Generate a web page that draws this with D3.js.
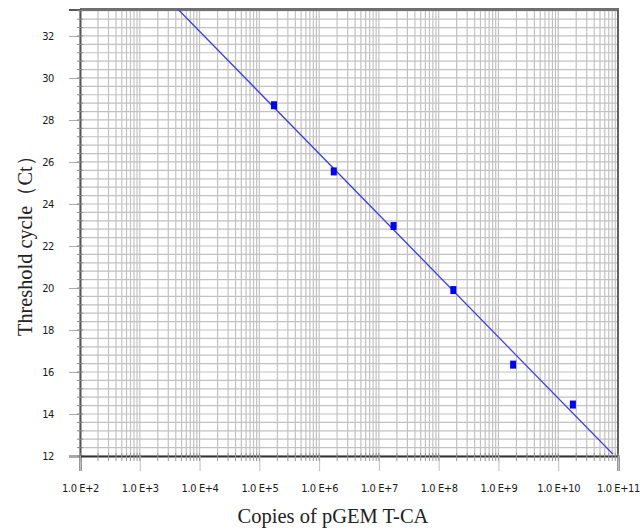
<!DOCTYPE html>
<html>
<head>
<meta charset="utf-8">
<script src="https://cdn.jsdelivr.net/npm/d3@7"></script>
<style>
  body { margin: 0; background: #fff; }
  .tick-lab { font-family: "DejaVu Sans Condensed", "Liberation Sans Narrow", sans-serif; font-size: 11px; fill: #1a1a1a; letter-spacing: -0.4px; }
  .axis-title { font-family: "Liberation Serif", "Times New Roman", serif; fill: #222; }
</style>
</head>
<body>
<div id="chart"></div>
<script>
// data
var copies = [1.76e5, 1.76e6, 1.76e7, 1.76e8, 1.76e9, 1.76e10];
var ctValues = [28.7, 25.55, 22.95, 19.9, 16.35, 14.45];
var xTickExp = [2, 3, 4, 5, 6, 7, 8, 9, 10, 11];
var yTickVals = [12, 14, 16, 18, 20, 22, 24, 26, 28, 30, 32];

var W = 644, H = 528;
var pL = 80, pR = 618, pT = 9.5, pB = 456;

var svg = d3.select("#chart").append("svg")
  .attr("width", W).attr("height", H);

// Scales
var x = d3.scaleLog().domain([1e2, 1e11]).range([pL, pR]);
var y = d3.scaleLinear().domain([12, 33.26]).range([pB, pT]);

// grid
var vGrid = [];
for (var e = 2; e <= 10; e++) {
  for (var k = 1; k <= 9; k++) vGrid.push(k * Math.pow(10, e));
}
vGrid.push(1e11);
var hGrid = d3.range(0, 54).map(function(i) { return 12 + i * 0.4; });

var grid = svg.append("g");
grid.selectAll(".vg").data(vGrid).enter().append("line")
  .attr("x1", function(d) { return x(d); })
  .attr("x2", function(d) { return x(d); })
  .attr("y1", pT).attr("y2", pB)
  .attr("stroke", "#c2c2c2").attr("stroke-width", 1.2);
grid.selectAll(".hg").data(hGrid).enter().append("line")
  .attr("x1", pL).attr("x2", pR)
  .attr("y1", function(d) { return y(d); })
  .attr("y2", function(d) { return y(d); })
  .attr("stroke", "#c2c2c2").attr("stroke-width", 1.2);

// borders
svg.append("line").attr("x1", pL).attr("x2", pR + 1).attr("y1", pT).attr("y2", pT)
  .attr("stroke", "#707070").attr("stroke-width", 3);
svg.append("line").attr("x1", pR).attr("x2", pR).attr("y1", pT).attr("y2", pB)
  .attr("stroke", "#606060").attr("stroke-width", 2);

// Y axis
var yAxis = svg.append("g").attr("transform", "translate(" + pL + ",0)")
  .call(d3.axisLeft(y).tickValues(yTickVals).tickSize(11).tickPadding(15)
    .tickFormat(function(d) { return d; }));
yAxis.select(".domain").attr("stroke", "#555").attr("stroke-width", 2);
yAxis.selectAll(".tick line").attr("stroke", "#aaa");
yAxis.selectAll("text").attr("class", "tick-lab").attr("font-family", null).attr("font-size", null);
// minor y ticks
svg.append("g").selectAll("line").data(hGrid).enter().append("line")
  .attr("x1", pL - 3).attr("x2", pL + 3)
  .attr("y1", function(d) { return y(d); })
  .attr("y2", function(d) { return y(d); })
  .attr("stroke", "#888");

// X axis
var xAxis = svg.append("g").attr("transform", "translate(0," + pB + ")")
  .call(d3.axisBottom(x).tickValues(xTickExp.map(function(e) { return Math.pow(10, e); }))
    .tickSize(15).tickPadding(13)
    .tickFormat(function(d) { return "1.0 E+" + Math.round(Math.log10(d)); }));
xAxis.select(".domain").attr("stroke", "#333").attr("stroke-width", 2);
xAxis.selectAll(".tick line").attr("stroke", "#c0c0c0");
xAxis.selectAll("text").attr("class", "tick-lab").attr("font-family", null).attr("font-size", null);
// minor x ticks
svg.append("g").selectAll("line").data(vGrid).enter().append("line")
  .attr("x1", function(d) { return x(d); })
  .attr("x2", function(d) { return x(d); })
  .attr("y1", pB - 3).attr("y2", pB + 5)
  .attr("stroke", "#999");

// regression line (least squares on log10 copies)
var lx = copies.map(function(d) { return Math.log10(d); });
var mx = d3.mean(lx), my = d3.mean(ctValues);
var sxy = d3.sum(lx, function(d, i) { return (d - mx) * (ctValues[i] - my); });
var sxx = d3.sum(lx, function(d) { return (d - mx) * (d - mx); });
var slope = sxy / sxx, icpt = my - slope * mx;

svg.append("clipPath").attr("id", "plotclip").append("rect")
  .attr("x", pL).attr("y", pT).attr("width", pR - pL).attr("height", pB - pT - 2);

svg.append("line")
  .attr("clip-path", "url(#plotclip)")
  .attr("x1", x(1e2)).attr("y1", y(icpt + slope * 2))
  .attr("x2", x(1e11)).attr("y2", y(icpt + slope * 11))
  .attr("stroke", "#3b3be8").attr("stroke-width", 1.3);

// points
svg.selectAll(".pt").data(copies).enter().append("rect")
  .attr("x", function(d) { return x(d) - 3; })
  .attr("y", function(d, i) { return y(ctValues[i]) - 4; })
  .attr("width", 6).attr("height", 8)
  .attr("fill", "#0000ff");

// titles
svg.append("text").attr("class", "axis-title")
  .attr("x", 333).attr("y", 523)
  .attr("text-anchor", "middle").attr("font-size", 20.5)
  .text("Copies of pGEM T-CA");
svg.append("text").attr("class", "axis-title")
  .attr("transform", "translate(32,241) rotate(-90)")
  .attr("text-anchor", "middle").attr("font-size", 21)
  .attr("textLength", 190).attr("lengthAdjust", "spacingAndGlyphs")
  .text("Threshold cycle（Ct）");
</script>
</body>
</html>
